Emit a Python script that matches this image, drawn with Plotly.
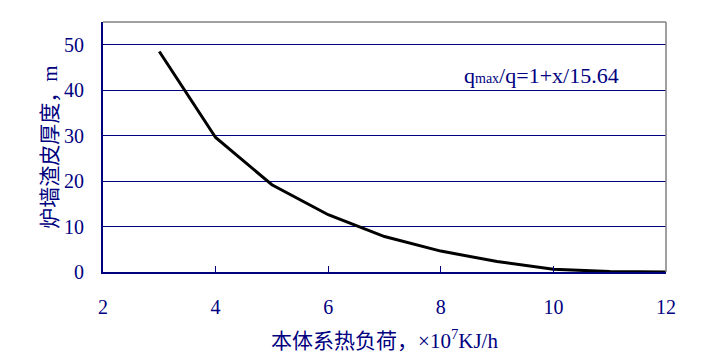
import plotly.graph_objects as go

heat_load = [3, 4, 5, 6, 7, 8, 9, 10, 11, 12]
slag_thickness = [48.5, 29.6, 19.2, 12.6, 7.8, 4.6, 2.3, 0.6, 0.1, 0.0]
x_ticks = [2, 4, 6, 8, 10, 12]
y_ticks = [0, 10, 20, 30, 40, 50]

NAVY = "#000080"
FONT = "Liberation Serif"
MIXED = "Liberation Serif, Noto Sans CJK SC"

fig = go.Figure()
fig.add_trace(go.Scatter(x=heat_load, y=slag_thickness, mode="lines",
                         line=dict(color="black", width=3), showlegend=False,
                         hoverinfo="skip"))

fig.update_layout(
    width=705, height=361,
    margin=dict(l=103, r=39, t=22, b=89, autoexpand=False),
    paper_bgcolor="white", plot_bgcolor="white",
    font=dict(family=FONT, color=NAVY, size=19),
    xaxis=dict(range=[2, 12], tickvals=x_ticks, showgrid=False, zeroline=False,
               showline=True, linecolor=NAVY, linewidth=2, automargin=False,
               ticks="inside", ticklen=6, tickcolor=NAVY, tickwidth=1,
               ticklabelstandoff=16,
               tickfont=dict(size=20, color=NAVY, family=FONT),
               title=dict(text="本体系热负荷，×10<sup>7</sup>KJ/h", standoff=16,
                          font=dict(size=21, color=NAVY, family=MIXED))),
    yaxis=dict(range=[0, 55], tickvals=y_ticks, showgrid=True, gridcolor=NAVY, gridwidth=1,
               zeroline=False, showline=True, linecolor=NAVY, linewidth=2, automargin=False,
               ticks="", ticklabelstandoff=13,
               tickfont=dict(size=20, color=NAVY, family=FONT),
               title=dict(text="炉墙渣皮厚度，m", standoff=1,
                          font=dict(size=21, color=NAVY, family=MIXED))),
    shapes=[
        dict(type="line", xref="paper", yref="paper", x0=0, x1=1, y0=1, y1=1,
             line=dict(color="#808080", width=1.5)),
        dict(type="line", xref="paper", yref="paper", x0=1, x1=1, y0=0, y1=1,
             line=dict(color="#808080", width=1.5)),
    ],
    annotations=[
        dict(text="q<span style='font-size:14px'>max</span>/q=1+x/15.64",
             xref="x", yref="y", x=8.38, y=43.3, xanchor="left", yanchor="middle",
             showarrow=False, font=dict(size=22, color=NAVY, family=FONT)),
    ],
)

fig.write_html("out.html", config={"displayModeBar": False},
               post_script="document.body.style.margin='0';")
